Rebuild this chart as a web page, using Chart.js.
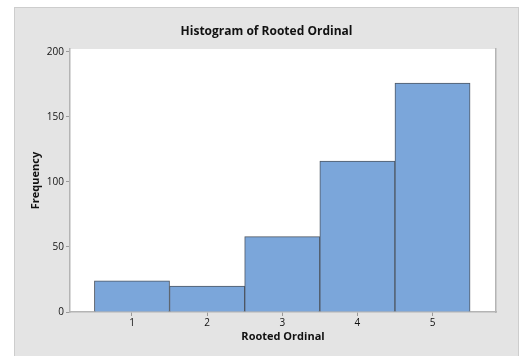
<!DOCTYPE html>
<html>
<head>
<meta charset="utf-8">
<script src="https://cdn.jsdelivr.net/npm/chart.js@4/dist/chart.umd.min.js"></script>
<style>
  html, body { margin: 0; padding: 0; background: #ffffff; }
  #wrap { width: 524px; height: 356px; position: relative; }
</style>
</head>
<body>
<div id="wrap"><canvas id="histChart" width="524" height="356"></canvas></div>
<script>
// bin centers and counts
const bins = [1, 2, 3, 4, 5];
const counts = [24, 20, 58, 116, 176];
const yTicks = [0, 50, 100, 150, 200];

const FONT = '"Open Sans", "Noto Sans", sans-serif';

// grey frame behind the whole graph, white data region
const backdrop = {
    id: 'backdrop',
    beforeDraw(chart) {
        const ctx = chart.ctx;
        const a = chart.chartArea;
        ctx.save();
        ctx.fillStyle = '#e4e4e4';
        ctx.fillRect(14, 7, 505, 360);
        ctx.strokeStyle = '#cdcdcd';
        ctx.lineWidth = 1;
        ctx.strokeRect(14.5, 7.5, 504, 360);
        ctx.fillStyle = '#ffffff';
        ctx.fillRect(a.left, a.top, a.right - a.left, a.bottom - a.top);
        ctx.restore();
    }
};

function fixedTicks(values) {
    return function (scale) {
        scale.ticks = values.map(v => ({ value: v }));
    };
}

const ctx = document.getElementById('histChart').getContext('2d');
const myChart = new Chart(ctx, {
    type: 'bar',
    data: {
        datasets: [{
            label: 'Rooted Ordinal',
            data: bins.map((b, i) => ({ x: b, y: counts[i] })),
            backgroundColor: '#7ba6da',
            borderColor: '#4e5763',
            borderWidth: 1,
            barPercentage: 1,
            categoryPercentage: 1
        }]
    },
    options: {
        responsive: false,
        animation: false,
        layout: { padding: { left: 14, right: 5, top: 0, bottom: 0 } },
        plugins: {
            legend: { display: false },
            tooltip: { enabled: false },
            title: {
                display: true,
                text: 'Histogram of Rooted Ordinal',
                color: '#111111',
                font: { family: FONT, size: 12, weight: 'bold' },
                padding: { top: 24, bottom: 10.6 }
            }
        },
        scales: {
            x: {
                type: 'linear',
                min: 0.175,
                max: 5.845,
                offset: false,
                afterBuildTicks: fixedTicks(bins),
                afterFit(scale) { scale.height = 44; },
                grid: { offset: false, drawOnChartArea: false, tickLength: 4, color: '#9a9a9a' },
                border: { color: '#b4b4b4', width: 1.5 },
                ticks: {
                    color: '#111111',
                    padding: 1,
                    font: { family: FONT, size: 10 }
                },
                title: {
                    display: true,
                    text: 'Rooted Ordinal',
                    color: '#111111',
                    font: { family: FONT, size: 11, weight: 'bold' },
                    padding: { top: 0, bottom: 13 }
                }
            },
            y: {
                min: 0,
                max: 202.3,
                afterBuildTicks: fixedTicks(yTicks),
                afterFit(scale) { scale.width = 56; },
                grid: { drawOnChartArea: false, tickLength: 4, color: '#9a9a9a' },
                border: { color: '#b4b4b4', width: 1.5 },
                ticks: {
                    color: '#111111',
                    padding: 2,
                    font: { family: FONT, size: 10 }
                },
                title: {
                    display: true,
                    text: 'Frequency',
                    color: '#111111',
                    font: { family: FONT, size: 11, weight: 'bold' },
                    padding: { top: 15, bottom: 0 }
                }
            },
            yRight: {
                position: 'right',
                min: 0,
                max: 202.3,
                afterFit(scale) { scale.width = 23; },
                grid: { display: false },
                ticks: { display: false },
                border: { color: '#b4b4b4', width: 1.5 }
            }
        }
    },
    plugins: [backdrop]
});
</script>
</body>
</html>
